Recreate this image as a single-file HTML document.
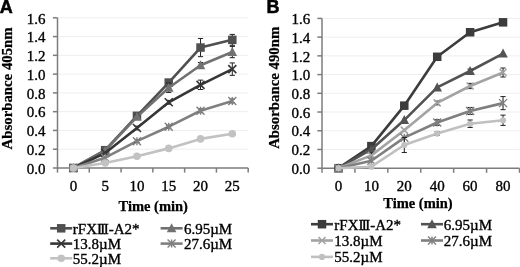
<!DOCTYPE html>
<html><head><meta charset="utf-8"><style>
html,body{margin:0;padding:0;background:#fff;}
body{width:520px;height:267px;overflow:hidden;}
svg{display:block;will-change:transform;filter:blur(0.3px);}
.t{font-family:"Liberation Serif",serif;font-size:15px;fill:#000;stroke:#000;stroke-width:0.35px;}
.tb{font-family:"Liberation Serif",serif;font-size:14.8px;font-weight:bold;fill:#000;stroke:#000;stroke-width:0.25px;}
.tb2{font-family:"Liberation Serif",serif;font-size:14.5px;font-weight:bold;fill:#000;stroke:#000;stroke-width:0.25px;}
.lt{font-family:"Liberation Sans",sans-serif;font-size:18px;font-weight:bold;fill:#000;stroke:#000;stroke-width:0.5px;}
</style></head><body>
<svg width="520" height="267" viewBox="0 0 520 267">
<rect width="520" height="267" fill="#fff"/>
<line x1="57.5" y1="149.22" x2="248.2" y2="149.22" stroke="#eeeeee" stroke-width="1"/>
<line x1="57.5" y1="130.45" x2="248.2" y2="130.45" stroke="#eeeeee" stroke-width="1"/>
<line x1="57.5" y1="111.67" x2="248.2" y2="111.67" stroke="#eeeeee" stroke-width="1"/>
<line x1="57.5" y1="92.9" x2="248.2" y2="92.9" stroke="#eeeeee" stroke-width="1"/>
<line x1="57.5" y1="74.13" x2="248.2" y2="74.13" stroke="#eeeeee" stroke-width="1"/>
<line x1="57.5" y1="55.35" x2="248.2" y2="55.35" stroke="#eeeeee" stroke-width="1"/>
<line x1="57.5" y1="36.58" x2="248.2" y2="36.58" stroke="#eeeeee" stroke-width="1"/>
<line x1="57.5" y1="17.8" x2="248.2" y2="17.8" stroke="#eeeeee" stroke-width="1"/>
<line x1="57.5" y1="17.8" x2="57.5" y2="168" stroke="#7c7c7c" stroke-width="1.5"/>
<line x1="52.9" y1="168" x2="57.5" y2="168" stroke="#7c7c7c" stroke-width="1.5"/>
<text x="45.6" y="173.7" text-anchor="end" class="t">0.0</text>
<line x1="52.9" y1="149.22" x2="57.5" y2="149.22" stroke="#7c7c7c" stroke-width="1.5"/>
<text x="45.6" y="154.92" text-anchor="end" class="t">0.2</text>
<line x1="52.9" y1="130.45" x2="57.5" y2="130.45" stroke="#7c7c7c" stroke-width="1.5"/>
<text x="45.6" y="136.15" text-anchor="end" class="t">0.4</text>
<line x1="52.9" y1="111.67" x2="57.5" y2="111.67" stroke="#7c7c7c" stroke-width="1.5"/>
<text x="45.6" y="117.38" text-anchor="end" class="t">0.6</text>
<line x1="52.9" y1="92.9" x2="57.5" y2="92.9" stroke="#7c7c7c" stroke-width="1.5"/>
<text x="45.6" y="98.6" text-anchor="end" class="t">0.8</text>
<line x1="52.9" y1="74.13" x2="57.5" y2="74.13" stroke="#7c7c7c" stroke-width="1.5"/>
<text x="45.6" y="79.83" text-anchor="end" class="t">1.0</text>
<line x1="52.9" y1="55.35" x2="57.5" y2="55.35" stroke="#7c7c7c" stroke-width="1.5"/>
<text x="45.6" y="61.05" text-anchor="end" class="t">1.2</text>
<line x1="52.9" y1="36.58" x2="57.5" y2="36.58" stroke="#7c7c7c" stroke-width="1.5"/>
<text x="45.6" y="42.28" text-anchor="end" class="t">1.4</text>
<line x1="52.9" y1="17.8" x2="57.5" y2="17.8" stroke="#7c7c7c" stroke-width="1.5"/>
<text x="45.6" y="23.5" text-anchor="end" class="t">1.6</text>
<line x1="57.5" y1="168" x2="248.2" y2="168" stroke="#7c7c7c" stroke-width="1.5"/>
<line x1="57.5" y1="168" x2="57.5" y2="172.6" stroke="#7c7c7c" stroke-width="1.5"/>
<line x1="89.28" y1="168" x2="89.28" y2="172.6" stroke="#7c7c7c" stroke-width="1.5"/>
<line x1="121.07" y1="168" x2="121.07" y2="172.6" stroke="#7c7c7c" stroke-width="1.5"/>
<line x1="152.85" y1="168" x2="152.85" y2="172.6" stroke="#7c7c7c" stroke-width="1.5"/>
<line x1="184.63" y1="168" x2="184.63" y2="172.6" stroke="#7c7c7c" stroke-width="1.5"/>
<line x1="216.42" y1="168" x2="216.42" y2="172.6" stroke="#7c7c7c" stroke-width="1.5"/>
<line x1="248.2" y1="168" x2="248.2" y2="172.6" stroke="#7c7c7c" stroke-width="1.5"/>
<text x="73.39" y="190.6" text-anchor="middle" class="t">0</text>
<text x="105.17" y="190.6" text-anchor="middle" class="t">5</text>
<text x="136.96" y="190.6" text-anchor="middle" class="t">10</text>
<text x="168.74" y="190.6" text-anchor="middle" class="t">15</text>
<text x="200.52" y="190.6" text-anchor="middle" class="t">20</text>
<text x="232.31" y="190.6" text-anchor="middle" class="t">25</text>
<path d="M73.39 168L105.17 150.16L136.96 115.81L168.74 82.57L200.52 47.56L232.31 39.86" stroke="#505050" stroke-width="2.6" fill="none" stroke-linejoin="round"/>
<path d="M136.96 113.93L136.96 117.68M134.36 113.93L139.56 113.93M134.36 117.68L139.56 117.68" stroke="#222" stroke-width="1" fill="none"/>
<path d="M168.74 79.76L168.74 85.39M166.14 79.76L171.34 79.76M166.14 85.39L171.34 85.39" stroke="#222" stroke-width="1" fill="none"/>
<path d="M200.52 38.45L200.52 56.66M197.92 38.45L203.12 38.45M197.92 56.66L203.12 56.66" stroke="#222" stroke-width="1" fill="none"/>
<path d="M232.31 34.42L232.31 45.31M229.71 34.42L234.91 34.42M229.71 45.31L234.91 45.31" stroke="#222" stroke-width="1" fill="none"/>
<rect x="69.14" y="163.75" width="8.5" height="8.5" fill="#505050"/>
<rect x="100.92" y="145.91" width="8.5" height="8.5" fill="#505050"/>
<rect x="132.71" y="111.56" width="8.5" height="8.5" fill="#505050"/>
<rect x="164.49" y="78.32" width="8.5" height="8.5" fill="#505050"/>
<rect x="196.27" y="43.31" width="8.5" height="8.5" fill="#505050"/>
<rect x="228.06" y="35.61" width="8.5" height="8.5" fill="#505050"/>
<path d="M73.39 168L105.17 150.63L136.96 116.84L168.74 87.74L200.52 65.3L232.31 52.06" stroke="#717171" stroke-width="2.6" fill="none" stroke-linejoin="round"/>
<path d="M136.96 114.96L136.96 118.72M134.36 114.96L139.56 114.96M134.36 118.72L139.56 118.72" stroke="#222" stroke-width="1" fill="none"/>
<path d="M168.74 83.04L168.74 92.43M166.14 83.04L171.34 83.04M166.14 92.43L171.34 92.43" stroke="#222" stroke-width="1" fill="none"/>
<path d="M200.52 62.48L200.52 68.12M197.92 62.48L203.12 62.48M197.92 68.12L203.12 68.12" stroke="#222" stroke-width="1" fill="none"/>
<path d="M232.31 46.43L232.31 57.7M229.71 46.43L234.91 46.43M229.71 57.7L234.91 57.7" stroke="#222" stroke-width="1" fill="none"/>
<path d="M73.39 163L78.19 172L68.59 172Z" fill="#717171"/>
<path d="M105.17 145.63L109.97 154.63L100.38 154.63Z" fill="#717171"/>
<path d="M136.96 111.84L141.76 120.84L132.16 120.84Z" fill="#717171"/>
<path d="M168.74 82.74L173.54 91.74L163.94 91.74Z" fill="#717171"/>
<path d="M200.52 60.3L205.32 69.3L195.72 69.3Z" fill="#717171"/>
<path d="M232.31 47.06L237.11 56.06L227.51 56.06Z" fill="#717171"/>
<path d="M73.39 168L105.17 152.98L136.96 128.01L168.74 102.29L200.52 84.83L232.31 69.15" stroke="#363636" stroke-width="2.6" fill="none" stroke-linejoin="round"/>
<path d="M136.96 126.13L136.96 129.89M134.36 126.13L139.56 126.13M134.36 129.89L139.56 129.89" stroke="#222" stroke-width="1" fill="none"/>
<path d="M168.74 100.41L168.74 104.17M166.14 100.41L171.34 100.41M166.14 104.17L171.34 104.17" stroke="#222" stroke-width="1" fill="none"/>
<path d="M200.52 80.13L200.52 89.52M197.92 80.13L203.12 80.13M197.92 89.52L203.12 89.52" stroke="#222" stroke-width="1" fill="none"/>
<path d="M232.31 62.95L232.31 75.35M229.71 62.95L234.91 62.95M229.71 75.35L234.91 75.35" stroke="#222" stroke-width="1" fill="none"/>
<path d="M69.39 164L77.39 172M77.39 164L69.39 172" stroke="#363636" stroke-width="1.6" fill="none"/>
<path d="M101.17 148.98L109.17 156.98M109.17 148.98L101.17 156.98" stroke="#363636" stroke-width="1.6" fill="none"/>
<path d="M132.96 124.01L140.96 132.01M140.96 124.01L132.96 132.01" stroke="#363636" stroke-width="1.6" fill="none"/>
<path d="M164.74 98.29L172.74 106.29M172.74 98.29L164.74 106.29" stroke="#363636" stroke-width="1.6" fill="none"/>
<path d="M196.52 80.83L204.52 88.83M204.52 80.83L196.52 88.83" stroke="#363636" stroke-width="1.6" fill="none"/>
<path d="M228.31 65.15L236.31 73.15M236.31 65.15L228.31 73.15" stroke="#363636" stroke-width="1.6" fill="none"/>
<path d="M73.39 168L105.17 157.67L136.96 141.15L168.74 126.7L200.52 110.74L232.31 100.97" stroke="#808080" stroke-width="2.6" fill="none" stroke-linejoin="round"/>
<path d="M136.96 139.74L136.96 142.56M134.36 139.74L139.56 139.74M134.36 142.56L139.56 142.56" stroke="#222" stroke-width="1" fill="none"/>
<path d="M168.74 125.29L168.74 128.1M166.14 125.29L171.34 125.29M166.14 128.1L171.34 128.1" stroke="#222" stroke-width="1" fill="none"/>
<path d="M200.52 108.86L200.52 112.61M197.92 108.86L203.12 108.86M197.92 112.61L203.12 112.61" stroke="#222" stroke-width="1" fill="none"/>
<path d="M232.31 99.1L232.31 102.85M229.71 99.1L234.91 99.1M229.71 102.85L234.91 102.85" stroke="#222" stroke-width="1" fill="none"/>
<path d="M69.39 164L77.39 172M77.39 164L69.39 172M73.39 164L73.39 172" stroke="#808080" stroke-width="1.4" fill="none"/>
<path d="M101.17 153.67L109.17 161.67M109.17 153.67L101.17 161.67M105.17 153.67L105.17 161.67" stroke="#808080" stroke-width="1.4" fill="none"/>
<path d="M132.96 137.15L140.96 145.15M140.96 137.15L132.96 145.15M136.96 137.15L136.96 145.15" stroke="#808080" stroke-width="1.4" fill="none"/>
<path d="M164.74 122.7L172.74 130.69M172.74 122.7L164.74 130.69M168.74 122.7L168.74 130.69" stroke="#808080" stroke-width="1.4" fill="none"/>
<path d="M196.52 106.74L204.52 114.74M204.52 106.74L196.52 114.74M200.52 106.74L200.52 114.74" stroke="#808080" stroke-width="1.4" fill="none"/>
<path d="M228.31 96.97L236.31 104.97M236.31 96.97L228.31 104.97M232.31 96.97L232.31 104.97" stroke="#808080" stroke-width="1.4" fill="none"/>
<path d="M73.39 168L105.17 162.93L136.96 156.27L168.74 148.38L200.52 138.9L232.31 133.74" stroke="#c2c2c2" stroke-width="2.6" fill="none" stroke-linejoin="round"/>
<circle cx="73.39" cy="168" r="3.8" fill="#c2c2c2"/>
<circle cx="105.17" cy="162.93" r="3.8" fill="#c2c2c2"/>
<circle cx="136.96" cy="156.27" r="3.8" fill="#c2c2c2"/>
<circle cx="168.74" cy="148.38" r="3.8" fill="#c2c2c2"/>
<circle cx="200.52" cy="138.9" r="3.8" fill="#c2c2c2"/>
<circle cx="232.31" cy="133.74" r="3.8" fill="#c2c2c2"/>
<text transform="translate(11.6 88.4) rotate(-90)" text-anchor="middle" class="tb">Absorbance 405nm</text>
<text x="153.2" y="210.5" text-anchor="middle" class="tb2">Time (min)</text>
<text x="-0.3" y="12.7" class="lt">A</text>
<line x1="50.2" y1="228.3" x2="72.2" y2="228.3" stroke="#505050" stroke-width="2.6"/>
<rect x="56.95" y="224.05" width="8.5" height="8.5" fill="#505050"/>
<text x="72.8" y="233.7" class="t">rFX<tspan style="letter-spacing:-1.6px">II</tspan>I-A2*</text>
<line x1="160.6" y1="228.3" x2="182.6" y2="228.3" stroke="#717171" stroke-width="2.6"/>
<path d="M171.6 223.3L176.4 232.3L166.8 232.3Z" fill="#717171"/>
<text x="183.9" y="233.7" class="t">6.95µM</text>
<line x1="50.2" y1="243.6" x2="72.2" y2="243.6" stroke="#363636" stroke-width="2.6"/>
<path d="M57.2 239.6L65.2 247.6M65.2 239.6L57.2 247.6" stroke="#363636" stroke-width="1.6" fill="none"/>
<text x="72.8" y="249" class="t">13.8µM</text>
<line x1="160.6" y1="243.6" x2="182.6" y2="243.6" stroke="#808080" stroke-width="2.6"/>
<path d="M167.6 239.6L175.6 247.6M175.6 239.6L167.6 247.6M171.6 239.6L171.6 247.6" stroke="#808080" stroke-width="1.4" fill="none"/>
<text x="183.9" y="249" class="t">27.6µM</text>
<line x1="50.2" y1="258.3" x2="72.2" y2="258.3" stroke="#c2c2c2" stroke-width="2.6"/>
<circle cx="61.2" cy="258.3" r="3.8" fill="#c2c2c2"/>
<text x="72.8" y="263.7" class="t">55.2µM</text>
<line x1="322" y1="149.47" x2="519.5" y2="149.47" stroke="#eeeeee" stroke-width="1"/>
<line x1="322" y1="130.75" x2="519.5" y2="130.75" stroke="#eeeeee" stroke-width="1"/>
<line x1="322" y1="112.02" x2="519.5" y2="112.02" stroke="#eeeeee" stroke-width="1"/>
<line x1="322" y1="93.3" x2="519.5" y2="93.3" stroke="#eeeeee" stroke-width="1"/>
<line x1="322" y1="74.58" x2="519.5" y2="74.58" stroke="#eeeeee" stroke-width="1"/>
<line x1="322" y1="55.85" x2="519.5" y2="55.85" stroke="#eeeeee" stroke-width="1"/>
<line x1="322" y1="37.12" x2="519.5" y2="37.12" stroke="#eeeeee" stroke-width="1"/>
<line x1="322" y1="18.4" x2="519.5" y2="18.4" stroke="#eeeeee" stroke-width="1"/>
<line x1="322" y1="18.4" x2="322" y2="168.2" stroke="#7c7c7c" stroke-width="1.5"/>
<line x1="317.4" y1="168.2" x2="322" y2="168.2" stroke="#7c7c7c" stroke-width="1.5"/>
<text x="310.2" y="173.9" text-anchor="end" class="t">0.0</text>
<line x1="317.4" y1="149.47" x2="322" y2="149.47" stroke="#7c7c7c" stroke-width="1.5"/>
<text x="310.2" y="155.17" text-anchor="end" class="t">0.2</text>
<line x1="317.4" y1="130.75" x2="322" y2="130.75" stroke="#7c7c7c" stroke-width="1.5"/>
<text x="310.2" y="136.45" text-anchor="end" class="t">0.4</text>
<line x1="317.4" y1="112.02" x2="322" y2="112.02" stroke="#7c7c7c" stroke-width="1.5"/>
<text x="310.2" y="117.72" text-anchor="end" class="t">0.6</text>
<line x1="317.4" y1="93.3" x2="322" y2="93.3" stroke="#7c7c7c" stroke-width="1.5"/>
<text x="310.2" y="99" text-anchor="end" class="t">0.8</text>
<line x1="317.4" y1="74.58" x2="322" y2="74.58" stroke="#7c7c7c" stroke-width="1.5"/>
<text x="310.2" y="80.28" text-anchor="end" class="t">1.0</text>
<line x1="317.4" y1="55.85" x2="322" y2="55.85" stroke="#7c7c7c" stroke-width="1.5"/>
<text x="310.2" y="61.55" text-anchor="end" class="t">1.2</text>
<line x1="317.4" y1="37.12" x2="322" y2="37.12" stroke="#7c7c7c" stroke-width="1.5"/>
<text x="310.2" y="42.83" text-anchor="end" class="t">1.4</text>
<line x1="317.4" y1="18.4" x2="322" y2="18.4" stroke="#7c7c7c" stroke-width="1.5"/>
<text x="310.2" y="24.1" text-anchor="end" class="t">1.6</text>
<line x1="322" y1="168.2" x2="519.5" y2="168.2" stroke="#7c7c7c" stroke-width="1.5"/>
<line x1="322" y1="168.2" x2="322" y2="172.8" stroke="#7c7c7c" stroke-width="1.5"/>
<line x1="354.92" y1="168.2" x2="354.92" y2="172.8" stroke="#7c7c7c" stroke-width="1.5"/>
<line x1="387.83" y1="168.2" x2="387.83" y2="172.8" stroke="#7c7c7c" stroke-width="1.5"/>
<line x1="420.75" y1="168.2" x2="420.75" y2="172.8" stroke="#7c7c7c" stroke-width="1.5"/>
<line x1="453.67" y1="168.2" x2="453.67" y2="172.8" stroke="#7c7c7c" stroke-width="1.5"/>
<line x1="486.58" y1="168.2" x2="486.58" y2="172.8" stroke="#7c7c7c" stroke-width="1.5"/>
<line x1="519.5" y1="168.2" x2="519.5" y2="172.8" stroke="#7c7c7c" stroke-width="1.5"/>
<text x="338.46" y="191.2" text-anchor="middle" class="t">0</text>
<text x="371.38" y="191.2" text-anchor="middle" class="t">10</text>
<text x="404.29" y="191.2" text-anchor="middle" class="t">20</text>
<text x="437.21" y="191.2" text-anchor="middle" class="t">40</text>
<text x="470.12" y="191.2" text-anchor="middle" class="t">60</text>
<text x="503.04" y="191.2" text-anchor="middle" class="t">80</text>
<path d="M338.46 168.2L371.38 146.1L404.29 105.66L437.21 56.79L470.12 32.26L503.04 22.33" stroke="#3c3c3c" stroke-width="2.6" fill="none" stroke-linejoin="round"/>
<rect x="334.21" y="163.95" width="8.5" height="8.5" fill="#3c3c3c"/>
<rect x="367.12" y="141.85" width="8.5" height="8.5" fill="#3c3c3c"/>
<rect x="400.04" y="101.41" width="8.5" height="8.5" fill="#3c3c3c"/>
<rect x="432.96" y="52.54" width="8.5" height="8.5" fill="#3c3c3c"/>
<rect x="465.88" y="28.01" width="8.5" height="8.5" fill="#3c3c3c"/>
<rect x="498.79" y="18.08" width="8.5" height="8.5" fill="#3c3c3c"/>
<path d="M338.46 168.2L371.38 149.47L404.29 120.08L437.21 87.4L470.12 71.02L503.04 53.6" stroke="#535353" stroke-width="2.6" fill="none" stroke-linejoin="round"/>
<path d="M470.12 69.14L470.12 72.89M467.52 69.14L472.73 69.14M467.52 72.89L472.73 72.89" stroke="#222" stroke-width="1" fill="none"/>
<path d="M338.46 163.2L343.26 172.2L333.66 172.2Z" fill="#535353"/>
<path d="M371.38 144.47L376.18 153.47L366.57 153.47Z" fill="#535353"/>
<path d="M404.29 115.08L409.09 124.08L399.49 124.08Z" fill="#535353"/>
<path d="M437.21 82.4L442.01 91.4L432.41 91.4Z" fill="#535353"/>
<path d="M470.12 66.02L474.93 75.02L465.32 75.02Z" fill="#535353"/>
<path d="M503.04 48.6L507.84 57.6L498.24 57.6Z" fill="#535353"/>
<path d="M338.46 168.2L371.38 155.37L404.29 130.19L437.21 102.94L470.12 86L503.04 72.52" stroke="#a3a3a3" stroke-width="2.6" fill="none" stroke-linejoin="round"/>
<path d="M371.38 152.85L371.38 157.9M368.77 152.85L373.98 152.85M368.77 157.9L373.98 157.9" stroke="#222" stroke-width="1" fill="none"/>
<path d="M437.21 101.07L437.21 104.82M434.61 101.07L439.81 101.07M434.61 104.82L439.81 104.82" stroke="#222" stroke-width="1" fill="none"/>
<path d="M470.12 83.38L470.12 88.62M467.52 83.38L472.73 83.38M467.52 88.62L472.73 88.62" stroke="#222" stroke-width="1" fill="none"/>
<path d="M503.04 68.02L503.04 77.01M500.44 68.02L505.64 68.02M500.44 77.01L505.64 77.01" stroke="#222" stroke-width="1" fill="none"/>
<path d="M334.96 164.7L341.96 171.7M341.96 164.7L334.96 171.7" stroke="#a3a3a3" stroke-width="1.6" fill="none"/>
<path d="M367.88 151.87L374.88 158.87M374.88 151.87L367.88 158.87" stroke="#a3a3a3" stroke-width="1.6" fill="none"/>
<path d="M400.79 126.69L407.79 133.69M407.79 126.69L400.79 133.69" stroke="#a3a3a3" stroke-width="1.6" fill="none"/>
<path d="M433.71 99.44L440.71 106.44M440.71 99.44L433.71 106.44" stroke="#a3a3a3" stroke-width="1.6" fill="none"/>
<path d="M466.62 82.5L473.62 89.5M473.62 82.5L466.62 89.5" stroke="#a3a3a3" stroke-width="1.6" fill="none"/>
<path d="M499.54 69.02L506.54 76.02M506.54 69.02L499.54 76.02" stroke="#a3a3a3" stroke-width="1.6" fill="none"/>
<path d="M338.46 168.2L371.38 160.71L404.29 137.68L437.21 122.51L470.12 111L503.04 103.13" stroke="#7f7f7f" stroke-width="2.6" fill="none" stroke-linejoin="round"/>
<path d="M437.21 119.7L437.21 125.32M434.61 119.7L439.81 119.7M434.61 125.32L439.81 125.32" stroke="#222" stroke-width="1" fill="none"/>
<path d="M470.12 107.44L470.12 114.55M467.52 107.44L472.73 107.44M467.52 114.55L472.73 114.55" stroke="#222" stroke-width="1" fill="none"/>
<path d="M503.04 96.58L503.04 109.68M500.44 96.58L505.64 96.58M500.44 109.68L505.64 109.68" stroke="#222" stroke-width="1" fill="none"/>
<path d="M334.46 164.2L342.46 172.2M342.46 164.2L334.46 172.2M338.46 164.2L338.46 172.2" stroke="#7f7f7f" stroke-width="1.4" fill="none"/>
<path d="M367.38 156.71L375.38 164.71M375.38 156.71L367.38 164.71M371.38 156.71L371.38 164.71" stroke="#7f7f7f" stroke-width="1.4" fill="none"/>
<path d="M400.29 133.68L408.29 141.68M408.29 133.68L400.29 141.68M404.29 133.68L404.29 141.68" stroke="#7f7f7f" stroke-width="1.4" fill="none"/>
<path d="M433.21 118.51L441.21 126.51M441.21 118.51L433.21 126.51M437.21 118.51L437.21 126.51" stroke="#7f7f7f" stroke-width="1.4" fill="none"/>
<path d="M466.12 107L474.12 115M474.12 107L466.12 115M470.12 107L470.12 115" stroke="#7f7f7f" stroke-width="1.4" fill="none"/>
<path d="M499.04 99.13L507.04 107.13M507.04 99.13L499.04 107.13M503.04 99.13L503.04 107.13" stroke="#7f7f7f" stroke-width="1.4" fill="none"/>
<path d="M338.46 168.2L371.38 166.7L404.29 144.98L437.21 133.56L470.12 123.73L503.04 120.26" stroke="#c0c0c0" stroke-width="2.6" fill="none" stroke-linejoin="round"/>
<path d="M404.29 137.49L404.29 152.47M401.69 137.49L406.89 137.49M401.69 152.47L406.89 152.47" stroke="#222" stroke-width="1" fill="none"/>
<path d="M437.21 131.69L437.21 135.43M434.61 131.69L439.81 131.69M434.61 135.43L439.81 135.43" stroke="#222" stroke-width="1" fill="none"/>
<path d="M470.12 119.98L470.12 127.47M467.52 119.98L472.73 119.98M467.52 127.47L472.73 127.47" stroke="#222" stroke-width="1" fill="none"/>
<path d="M503.04 115.11L503.04 125.41M500.44 115.11L505.64 115.11M500.44 125.41L505.64 125.41" stroke="#222" stroke-width="1" fill="none"/>
<circle cx="338.46" cy="168.2" r="3.1" fill="#c0c0c0"/>
<circle cx="371.38" cy="166.7" r="3.1" fill="#c0c0c0"/>
<circle cx="404.29" cy="144.98" r="3.1" fill="#c0c0c0"/>
<circle cx="437.21" cy="133.56" r="3.1" fill="#c0c0c0"/>
<circle cx="470.12" cy="123.73" r="3.1" fill="#c0c0c0"/>
<circle cx="503.04" cy="120.26" r="3.1" fill="#c0c0c0"/>
<text transform="translate(278.5 87.8) rotate(-90)" text-anchor="middle" class="tb">Absorbance 490nm</text>
<text x="418" y="208" text-anchor="middle" class="tb2">Time (min)</text>
<text x="266.6" y="12.7" class="lt">B</text>
<line x1="311" y1="224.2" x2="333" y2="224.2" stroke="#3c3c3c" stroke-width="2.6"/>
<rect x="317.75" y="219.95" width="8.5" height="8.5" fill="#3c3c3c"/>
<text x="334.3" y="229.6" class="t">rFX<tspan style="letter-spacing:-1.6px">II</tspan>I-A2*</text>
<line x1="421" y1="224.2" x2="443" y2="224.2" stroke="#535353" stroke-width="2.6"/>
<path d="M432 219.2L436.8 228.2L427.2 228.2Z" fill="#535353"/>
<text x="443.8" y="229.6" class="t">6.95µM</text>
<line x1="311" y1="240.5" x2="333" y2="240.5" stroke="#a3a3a3" stroke-width="2.6"/>
<path d="M318.5 237L325.5 244M325.5 237L318.5 244" stroke="#a3a3a3" stroke-width="1.6" fill="none"/>
<text x="334.3" y="245.9" class="t">13.8µM</text>
<line x1="421" y1="240.5" x2="443" y2="240.5" stroke="#7f7f7f" stroke-width="2.6"/>
<path d="M428 236.5L436 244.5M436 236.5L428 244.5M432 236.5L432 244.5" stroke="#7f7f7f" stroke-width="1.4" fill="none"/>
<text x="443.8" y="245.9" class="t">27.6µM</text>
<line x1="311" y1="256.9" x2="333" y2="256.9" stroke="#c0c0c0" stroke-width="2.6"/>
<circle cx="322" cy="256.9" r="3.1" fill="#c0c0c0"/>
<text x="334.3" y="262.3" class="t">55.2µM</text>
</svg>
</body></html>
